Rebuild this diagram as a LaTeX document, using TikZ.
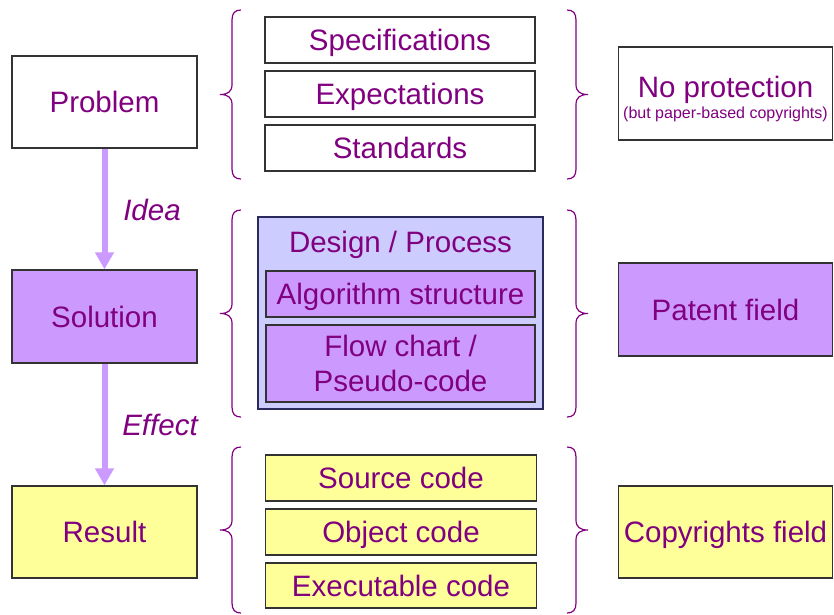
\documentclass[tikz,border=0pt]{standalone}
\usepackage{fontspec}
\setmainfont{Liberation Sans}
\usetikzlibrary{arrows.meta}
\definecolor{txt}{HTML}{800080}
\definecolor{lil}{HTML}{CC99FF}
\definecolor{lav}{HTML}{CCCCFF}
\definecolor{yel}{HTML}{FFFF99}
\definecolor{edgec}{HTML}{333333}
\definecolor{arr}{HTML}{CC99FF}
\tikzset{
  box/.style={draw=edgec, line width=1.3pt, text=txt, font=\fontsize{29.5}{35}\selectfont, align=center, inner sep=0pt},
  oneline/.style={text height=21pt, text depth=0pt},
  bracestyle/.style={draw=txt, line width=1.2pt},
  flowarrow/.style={draw=arr, line width=6pt, -{Triangle[width=18pt,length=17pt]}, shorten >=0pt},
  lbl/.style={text=txt, font=\fontsize{29.5}{35}\selectfont\itshape},
}
\newcommand{\BraceLeft}[2]{%
  \pgfmathsetmacro{\bmid}{(#1+#2)/2}%
  \draw[bracestyle] (241,#1) .. controls (235,#1) and (232,#1+3) .. (232,#1+10) -- (232,\bmid-10) .. controls (232,\bmid-3) and (228,\bmid) .. (220,\bmid) .. controls (228,\bmid) and (232,\bmid+3) .. (232,\bmid+10) -- (232,#2-10) .. controls (232,#2-3) and (235,#2) .. (241,#2);}
\newcommand{\BraceRight}[2]{%
  \pgfmathsetmacro{\bmid}{(#1+#2)/2}%
  \draw[bracestyle] (567,#1) .. controls (573,#1) and (576,#1+3) .. (576,#1+10) -- (576,\bmid-10) .. controls (576,\bmid-3) and (580,\bmid) .. (588,\bmid) .. controls (580,\bmid) and (576,\bmid+3) .. (576,\bmid+10) -- (576,#2-10) .. controls (576,#2-3) and (573,#2) .. (567,#2);}
\begin{document}
\begin{tikzpicture}[x=1pt,y=-1pt]
\useasboundingbox (0,0) rectangle (834,614);
% left column
\node[box, oneline, fill=white, minimum width=185pt, minimum height=92pt] (problem) at (104.5,102) {Problem};
\node[box, oneline, fill=lil, minimum width=185pt, minimum height=93pt] (solution) at (104.5,316.5) {Solution};
\node[box, oneline, fill=yel, minimum width=185pt, minimum height=92pt] (result) at (104.5,532) {Result};
\draw[flowarrow] (problem.south) -- (solution.north);
\draw[flowarrow] (solution.south) -- (result.north);
\node[lbl] (idea) at (152,210) {Idea};
\node[lbl] (effect) at (160,425) {Effect};
% middle column top
\node[box, oneline, fill=white, minimum width=270pt, minimum height=46pt] (spec) at (400,40) {Specifications};
\node[box, oneline, fill=white, minimum width=270pt, minimum height=46pt] (expect) at (400,94) {Expectations};
\node[box, oneline, fill=white, minimum width=270pt, minimum height=46pt] (std) at (400,148) {Standards};
% middle column middle
\node[box, draw=edgec!80!blue, fill=lav, minimum width=285pt, minimum height=192pt] (design) at (400.5,313) {};
\node[oneline, inner sep=0pt, text=txt, font=\fontsize{29.5}{35}\selectfont] (designtitle) at (400.5,242) {Design / Process};
\node[box, oneline, fill=lil, minimum width=269pt, minimum height=46pt] (algo) at (400.5,294) {Algorithm structure};
\node[box, fill=lil, minimum width=269pt, minimum height=77pt] (flow) at (400.5,363.5) {Flow chart /\\Pseudo-code};
% middle column bottom
\node[box, oneline, fill=yel, minimum width=271pt, minimum height=46pt] (src) at (401,478) {Source code};
\node[box, oneline, fill=yel, minimum width=271pt, minimum height=46pt] (obj) at (401,532) {Object code};
\node[box, oneline, fill=yel, minimum width=271pt, minimum height=45pt] (exe) at (401,585.5) {Executable code};
% braces
\BraceLeft{10}{179}
\BraceRight{10}{179}
\BraceLeft{210}{417}
\BraceRight{210}{417}
\BraceLeft{447}{613}
\BraceRight{447}{613}
% right column
\node[box, fill=white, minimum width=214pt, minimum height=93pt] (noprot) at (725.5,93.5) {};
\node[oneline, inner sep=0pt, text=txt, font=\fontsize{29.5}{35}\selectfont] (noprottitle) at (725.5,87) {No protection};
\node[text=txt, inner sep=0pt, text height=11.5pt, text depth=0pt, font=\fontsize{16}{18}\selectfont] (noprotnote) at (725.5,113) {(but paper-based copyrights)};
\node[box, oneline, fill=lil, minimum width=214pt, minimum height=93pt] (patent) at (725.5,309.5) {Patent field};
\node[box, oneline, fill=yel, minimum width=214pt, minimum height=92pt] (copy) at (725.5,532) {Copyrights field};
\end{tikzpicture}
\end{document}
